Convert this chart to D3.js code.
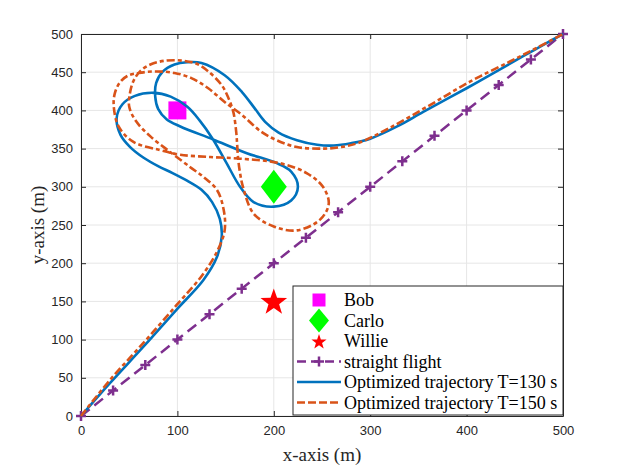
<!DOCTYPE html>
<html>
<head>
<meta charset="utf-8">
<script src="https://cdn.jsdelivr.net/npm/d3@7"></script>
<style>
  body { margin: 0; background: #fff; }
  svg { display: block; }
</style>
</head>
<body>
<svg width="623" height="467"></svg>
<script>
// ---- data ----
const xTicks = [0, 100, 200, 300, 400, 500];
const yTicks = [0, 50, 100, 150, 200, 250, 300, 350, 400, 450, 500];

const bob = [100, 400];
const carlo = [200, 300];
const willie = [200, 150];

const straightX = [0, 33.3, 66.7, 100, 133.3, 166.7, 200, 233.3, 266.7, 300, 333.3, 366.7, 400, 433.3, 466.7, 500];
const straightY = [0, 33.3, 66.7, 100, 133.3, 166.7, 200, 233.3, 266.7, 300, 333.3, 366.7, 400, 433.3, 466.7, 500];

// optimized trajectory T=130 s
const traj130 = [
  [0,0],[30,43],[65,91],[99,139],[127,178],[141,208],[146,235],[144,258],[136,280],[125,296],
  [110,308],[95,318],[80,327],[65,338],[51,352],[41,368],[37,390],[43,408],[56,419],[75,423],
  [93,418],[110,405],[123,387],[137,362],[151,331],[165,300],[179,280],[200,274],[218,282],[225,300],
  [218,320],[203,331],[172,344],[137,362],[103,379],[89,388],[80,402],[77,418],[78,436],[85,451],
  [97,460],[110,463],[125,462],[149,446],[167,424],[180,403],[191,385],[205,371],[224,361],[245,355],
  [262,354],[280,357],[300,363],[328,379],[355,398],[400,429],[442,459],[470,479],[500,500]
];

// optimized trajectory T=150 s
const traj150 = [
  [0,0],[30,47],[65,96],[99,145],[125,183],[141,215],[149,243],[148,270],[141,296],[127,313],
  [113,326],[92,346],[72,366],[57,386],[50,405],[51,424],[55,440],[62,452],[72,460],[87,465],
  [106,465],[120,461],[132,451],[146,433],[153,416],[158,398],[161,372],[162,355],[163,337],[165,318],
  [168,300],[179,265],[200,248],[224,243],[248,257],[257,278],[251,300],[234,318],[206,331],[163,337],
  [134,339],[103,342],[82,348],[54,359],[39,379],[34,405],[35,422],[40,436],[48,445],[60,449],
  [77,451],[97,449],[115,442],[132,429],[149,411],[167,394],[187,372],[203,361],[224,352],[251,350],
  [270,352],[289,358],[320,377],[362,407],[404,438],[445,464],[473,482],[500,500]
];

const legendLabels = ["Bob", "Carlo", "Willie", "straight flight",
  "Optimized trajectory T=130 s", "Optimized trajectory T=150 s"];

// ---- layout ----
const svg = d3.select("svg");
const plotL = 81, plotR = 563, plotT = 34, plotB = 416;
const axisColor = "#262626";
const blue = "#0072BD", orange = "#D95319", purple = "#7E2F8E";
const orangeDash = "8,3,4,3";

const x = d3.scaleLinear().domain([0, 500]).range([plotL, plotR]);
const y = d3.scaleLinear().domain([0, 500]).range([plotB, plotT]);

// grid
svg.append("g").selectAll("line").data(xTicks).enter().append("line")
  .attr("x1", d => x(d)).attr("x2", d => x(d))
  .attr("y1", plotT).attr("y2", plotB)
  .attr("stroke", "#e6e6e6").attr("stroke-width", 1);
svg.append("g").selectAll("line").data(yTicks).enter().append("line")
  .attr("y1", d => y(d)).attr("y2", d => y(d))
  .attr("x1", plotL).attr("x2", plotR)
  .attr("stroke", "#e6e6e6").attr("stroke-width", 1);

// axes (ticks pointing inward)
const fontTick = "'Liberation Sans', Arial, sans-serif";
const xAxis = svg.append("g")
  .attr("transform", `translate(0,${plotB})`)
  .call(d3.axisBottom(x).tickValues(xTicks).tickSizeInner(-5).tickSizeOuter(0).tickPadding(10));
const yAxis = svg.append("g")
  .attr("transform", `translate(${plotL},0)`)
  .call(d3.axisLeft(y).tickValues(yTicks).tickSizeInner(-5).tickSizeOuter(0).tickPadding(8));
const xTop = svg.append("g")
  .attr("transform", `translate(0,${plotT})`)
  .call(d3.axisTop(x).tickValues(xTicks).tickSizeInner(-5).tickSizeOuter(0).tickFormat(""));
const yRight = svg.append("g")
  .attr("transform", `translate(${plotR},0)`)
  .call(d3.axisRight(y).tickValues(yTicks).tickSizeInner(-5).tickSizeOuter(0).tickFormat(""));

[xAxis, yAxis, xTop, yRight].forEach(g => {
  g.select(".domain").attr("stroke", axisColor).attr("stroke-width", 1);
  g.selectAll(".tick line").attr("stroke", axisColor).attr("stroke-width", 1);
  g.selectAll(".tick text").attr("fill", axisColor)
    .style("font-family", fontTick).style("font-size", "13px");
});

// axis labels
const fontSerif = "'Liberation Serif', 'Times New Roman', serif";
svg.append("text")
  .attr("x", (plotL + plotR) / 2).attr("y", 461)
  .attr("text-anchor", "middle")
  .style("font-family", fontSerif).style("font-size", "19px").attr("fill", axisColor)
  .text("x-axis (m)");
svg.append("text")
  .attr("transform", `translate(44,${(plotT + plotB) / 2}) rotate(-90)`)
  .attr("text-anchor", "middle")
  .style("font-family", fontSerif).style("font-size", "19px").attr("fill", axisColor)
  .text("y-axis (m)");

// marker shapes
function starPath(r) {
  const pts = [];
  for (let i = 0; i < 10; i++) {
    const rr = i % 2 === 0 ? r : r * 0.4;
    const a = -Math.PI / 2 + i * Math.PI / 5;
    pts.push([rr * Math.cos(a), rr * Math.sin(a)]);
  }
  return "M" + pts.map(p => p.join(",")).join("L") + "Z";
}
function diamondPath(w, h) {
  return `M0,${-h/2}L${w/2},0L0,${h/2}L${-w/2},0Z`;
}
function squarePath(s) {
  return `M${-s/2},${-s/2}H${s/2}V${s/2}H${-s/2}Z`;
}
function plusPath(s) {
  return `M${-s/2},0H${s/2}M0,${-s/2}V${s/2}`;
}

// node markers
const plot = svg.append("g");
plot.append("path").attr("d", squarePath(18))
  .attr("transform", `translate(${x(bob[0])},${y(bob[1])})`).attr("fill", "#FF00FF");
plot.append("path").attr("d", diamondPath(26, 34))
  .attr("transform", `translate(${x(carlo[0])},${y(carlo[1])})`).attr("fill", "#00FF00");
plot.append("path").attr("d", starPath(14))
  .attr("transform", `translate(${x(willie[0])},${y(willie[1]) + 1})`).attr("fill", "#FF0000");

// straight flight
const straight = straightX.map((d, i) => [d, straightY[i]]);
const lineStraight = d3.line().x(d => x(d[0])).y(d => y(d[1]));
plot.append("path").datum(straight)
  .attr("d", lineStraight)
  .attr("fill", "none").attr("stroke", purple).attr("stroke-width", 2.5)
  .attr("stroke-dasharray", "11,6");
plot.selectAll(".plus").data(straight).enter().append("path")
  .attr("class", "plus")
  .attr("d", plusPath(10))
  .attr("transform", d => `translate(${x(d[0])},${y(d[1])})`)
  .attr("stroke", purple).attr("stroke-width", 2.5).attr("fill", "none");

// optimized trajectories
const curve = d3.line().x(d => x(d[0])).y(d => y(d[1])).curve(d3.curveCatmullRom.alpha(0.5));
plot.append("path").datum(traj130)
  .attr("d", curve)
  .attr("fill", "none").attr("stroke", blue).attr("stroke-width", 2.6);
plot.append("path").datum(traj150)
  .attr("d", curve)
  .attr("fill", "none").attr("stroke", orange).attr("stroke-width", 2.6)
  .attr("stroke-dasharray", orangeDash);

// legend
const lg = svg.append("g");
lg.append("rect")
  .attr("x", 293).attr("y", 286).attr("width", 270).attr("height", 129)
  .attr("fill", "#fff").attr("stroke", axisColor).attr("stroke-width", 1);
const rowY = i => 300 + i * 20.5;
const mx = 319;
lg.append("path").attr("d", squarePath(13))
  .attr("transform", `translate(${mx},${rowY(0)})`).attr("fill", "#FF00FF");
lg.append("path").attr("d", diamondPath(20, 24))
  .attr("transform", `translate(${mx},${rowY(1)})`).attr("fill", "#00FF00");
lg.append("path").attr("d", starPath(8))
  .attr("transform", `translate(${mx},${rowY(2) + 1})`).attr("fill", "#FF0000");
lg.append("line").attr("x1", 297).attr("x2", 341).attr("y1", rowY(3)).attr("y2", rowY(3))
  .attr("stroke", purple).attr("stroke-width", 2.5).attr("stroke-dasharray", "9,5");
lg.append("path").attr("d", plusPath(10))
  .attr("transform", `translate(${mx},${rowY(3)})`)
  .attr("stroke", purple).attr("stroke-width", 2.5);
lg.append("line").attr("x1", 297).attr("x2", 341).attr("y1", rowY(4)).attr("y2", rowY(4))
  .attr("stroke", blue).attr("stroke-width", 2.6);
lg.append("line").attr("x1", 297).attr("x2", 341).attr("y1", rowY(5)).attr("y2", rowY(5))
  .attr("stroke", orange).attr("stroke-width", 2.6).attr("stroke-dasharray", "8,3");

lg.selectAll(".ltext").data(legendLabels).enter().append("text")
  .attr("class", "ltext")
  .attr("x", 344).attr("y", (d, i) => rowY(i) + 6)
  .style("font-family", fontSerif).style("font-size", "18px").attr("fill", "#000")
  .text(d => d);
</script>
</body>
</html>
